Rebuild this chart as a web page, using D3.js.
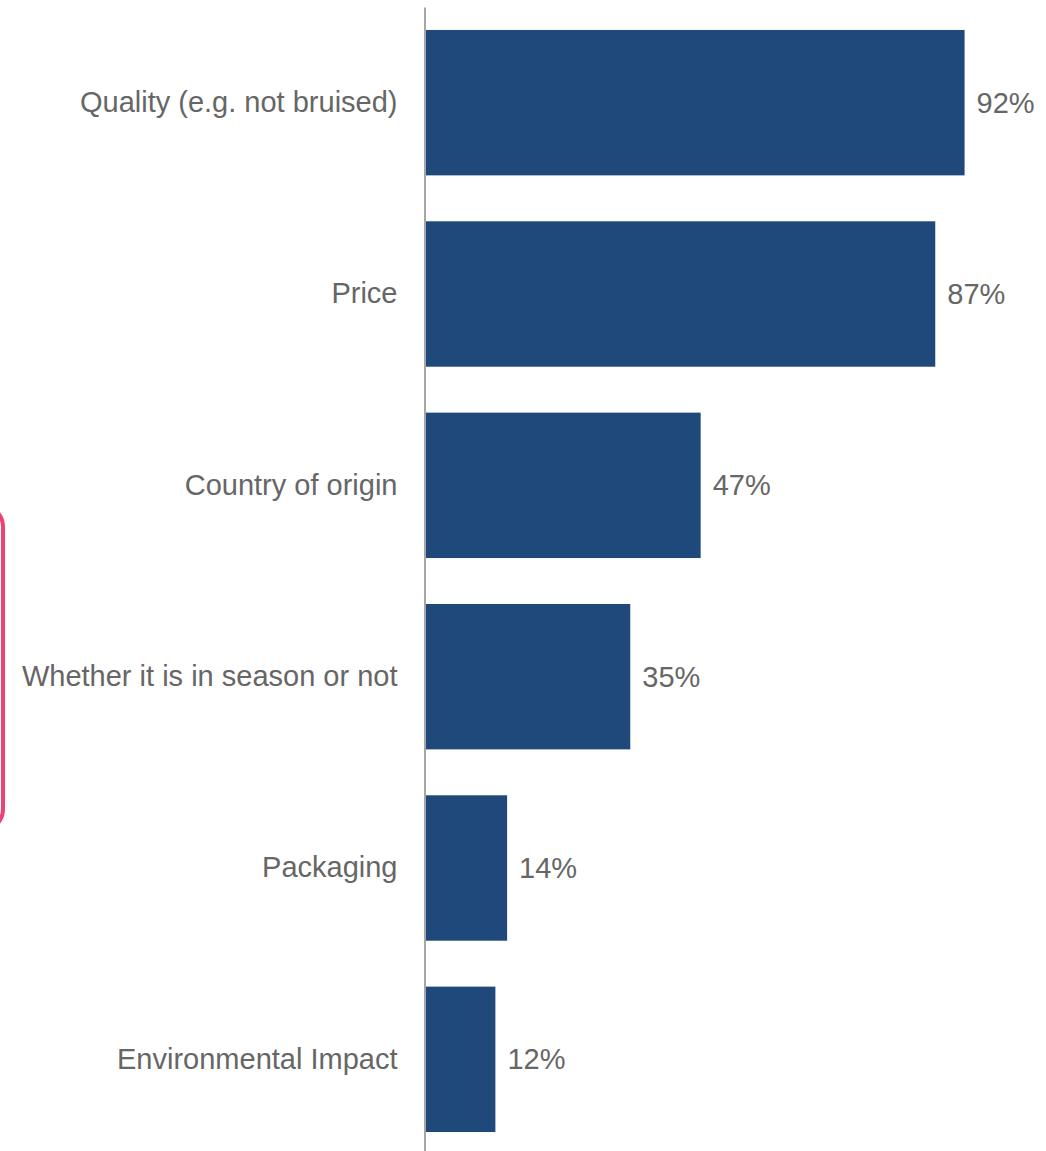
<!DOCTYPE html>
<html>
<head>
<meta charset="utf-8">
<script src="https://cdn.jsdelivr.net/npm/d3@7"></script>
<style>
  html, body { margin: 0; padding: 0; background: #ffffff; }
  svg { display: block; }
</style>
</head>
<body>
<svg id="chart" width="1046" height="1151"></svg>
<script>
// Factors considered when buying fresh produce (% of respondents)
const categories = [
  "Quality (e.g. not bruised)",
  "Price",
  "Country of origin",
  "Whether it is in season or not",
  "Packaging",
  "Environmental Impact"
];
const values = [92, 87, 47, 35, 14, 12];

const W = 1046, H = 1151;
const axisX = 425;
const FONT = "'Liberation Sans', Arial, Helvetica, sans-serif";
const TEXT_COLOR = "#666666";

const svg = d3.select("#chart");

// Highlight frame around the middle block (extends past the left edge)
svg.append("rect")
  .attr("x", -300)
  .attr("y", 505)
  .attr("width", 303)
  .attr("height", 326)
  .attr("rx", 22)
  .attr("fill", "none")
  .attr("stroke", "#EE4275")
  .attr("stroke-width", 4);

const x = d3.scaleLinear().domain([0, 100]).range([axisX, 1011.5]);
const y = d3.scaleBand()
  .domain(categories)
  .range([7, 1155])
  .paddingInner(0.24)
  .paddingOuter(0.12);

const data = categories.map((c, i) => ({ cat: c, val: values[i] }));

// Bars
svg.append("g").selectAll("rect")
  .data(data)
  .join("rect")
  .attr("x", x(0))
  .attr("y", d => y(d.cat))
  .attr("width", d => x(d.val) - x(0))
  .attr("height", y.bandwidth())
  .attr("fill", "#1F497A");

// Category axis on the left
const axis = d3.axisLeft(y).tickSize(0).tickPadding(27);
const gAxis = svg.append("g")
  .attr("transform", `translate(${axisX - 0.5},0)`)
  .call(axis);
gAxis.attr("font-family", FONT).attr("font-size", 29);
gAxis.select(".domain")
  .attr("stroke", "#A6A6A6")
  .attr("stroke-width", 2);
gAxis.selectAll("text")
  .style("font-family", FONT)
  .style("font-size", "29px")
  .attr("fill", TEXT_COLOR);

// Value labels
svg.append("g").selectAll("text")
  .data(data)
  .join("text")
  .attr("x", d => x(d.val) + 12)
  .attr("y", d => y(d.cat) + y.bandwidth() / 2)
  .attr("dy", "0.35em")
  .style("font-family", FONT)
  .style("font-size", "29px")
  .attr("fill", TEXT_COLOR)
  .text(d => d.val + "%");
</script>
</body>
</html>
